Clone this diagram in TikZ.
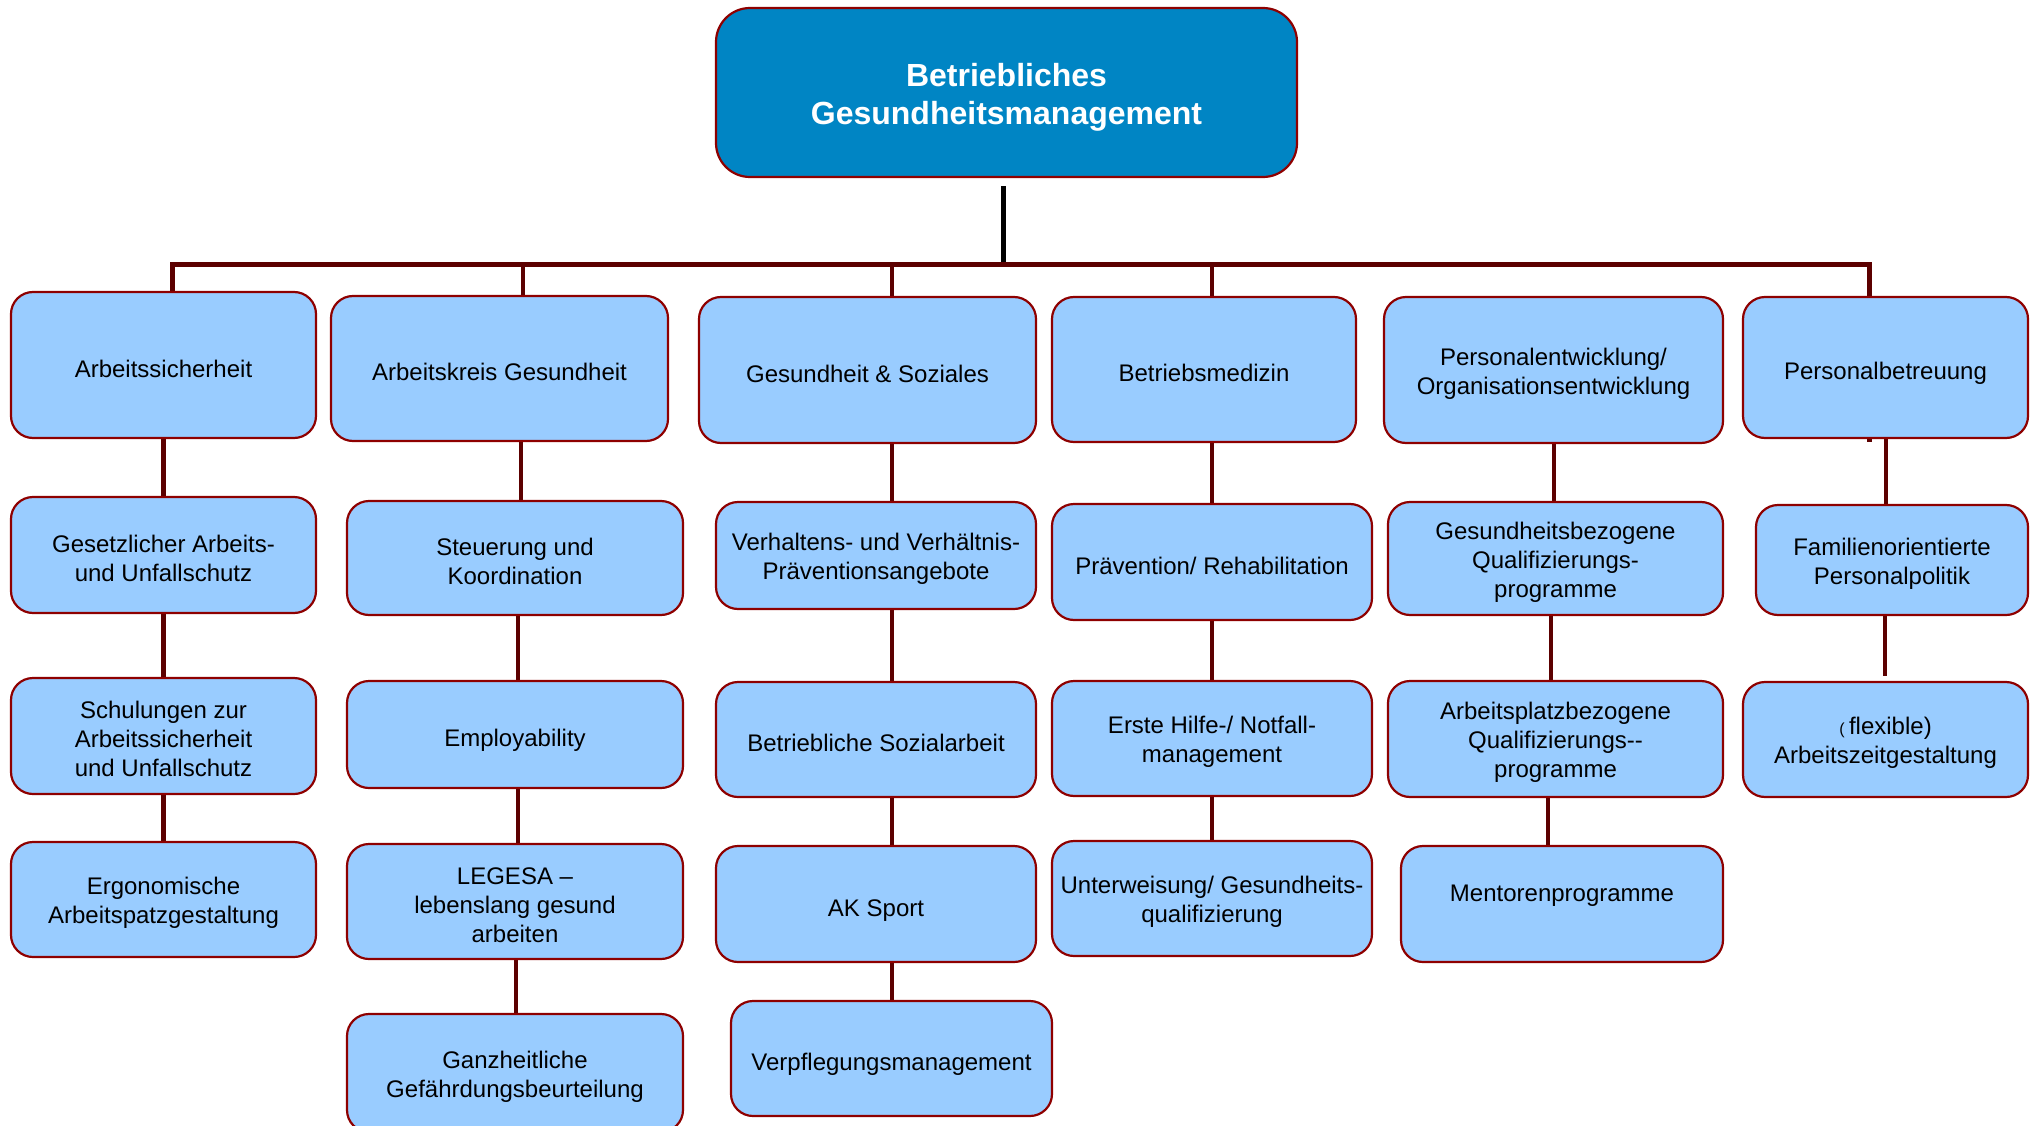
\documentclass[tikz,border=0pt]{standalone}
\usepackage{fontspec}
\setmainfont{Liberation Sans}
\definecolor{lightfill}{HTML}{99CCFF}
\definecolor{rootfill}{HTML}{0085C4}
\definecolor{bordercol}{HTML}{8E0000}
\definecolor{conncol}{HTML}{5C0000}
\pgfdeclarelayer{bg}
\pgfsetlayers{bg,main}
\tikzset{
  box/.style={draw=bordercol, line width=2.2pt, fill=lightfill, rounded corners=22pt,
    inner sep=0pt, align=center, font=\fontsize{24}{29}\selectfont},
  sl/.style={text depth=0pt},
  rootbox/.style={draw=bordercol, line width=2.2pt, fill=rootfill, rounded corners=34pt,
    inner sep=0pt, align=center, text=white, font=\fontsize{32}{38}\selectfont\bfseries},
  conn/.style={draw=conncol, line width=4.5pt},
  busline/.style={draw=conncol, line width=5pt},
  rootline/.style={draw=black, line width=4.3pt},
}
\newcommand\bx[7][]{%
  \pgfmathsetmacro\bxw{#5-#3}\pgfmathsetmacro\bxh{#6-#4}%
  \pgfmathsetmacro\bxx{(#3+#5)/2}\pgfmathsetmacro\bxy{(#4+#6)/2}%
  \node[box,#1,minimum width=\bxw pt,minimum height=\bxh pt] (#2) at (\bxx,\bxy) {\rule{0pt}{24pt}#7};}
\newcommand\vl[3]{%
  \coordinate (tmpa) at ([xshift=#3]#1.south);
  \draw[conn] (tmpa) -- (tmpa |- #2.north);}
\newcommand\stub[2]{%
  \coordinate (tmpa) at ([xshift=#2]#1.north);
  \draw[conn] (tmpa) -- (tmpa |- busL);}
\begin{document}
\begin{tikzpicture}[x=1pt,y=-1pt]
\useasboundingbox (0,0) rectangle (2031,1126);
% root
\node[rootbox, minimum width=581pt, minimum height=169pt] (root) at (1006.5,92.5)
  {\rule{0pt}{32pt}Betriebliches\\Gesundheitsmanagement};
% row 1
\bx[sl]{a1}{11}{292}{316}{438}{Arbeitssicherheit}
\bx[sl]{a2}{331}{296}{668}{441}{Arbeitskreis Gesundheit}
\bx[sl]{a3}{699}{297}{1036}{443}{Gesundheit \& Soziales}
\bx[sl]{a4}{1052}{297}{1356}{442}{Betriebsmedizin}
\bx{a5}{1384}{297}{1723}{443}{Personalentwicklung/\\Organisationsentwicklung}
\bx[sl]{a6}{1743}{297}{2028}{438}{Personalbetreuung}
% row 2
\bx{b1}{11}{497}{316}{613}{Gesetzlicher Arbeits-\\und Unfallschutz}
\bx{b2}{347}{501}{683}{615}{Steuerung und\\Koordination}
\bx{b3}{716}{502}{1036}{609}{Verhaltens- und Verhältnis-\\Präventionsangebote}
\bx[sl]{b4}{1052}{504}{1372}{620}{Prävention/ Rehabilitation}
\bx{b5}{1388}{502}{1723}{615}{Gesundheitsbezogene\\Qualifizierungs-\\programme}
\bx{b6}{1756}{505}{2028}{615}{Familienorientierte\\Personalpolitik}
% row 3
\bx{c1}{11}{678}{316}{794}{Schulungen zur\\Arbeitssicherheit\\und Unfallschutz}
\bx[sl]{c2}{347}{681}{683}{788}{Employability}
\bx[sl]{c3}{716}{682}{1036}{797}{Betriebliche Sozialarbeit}
\bx{c4}{1052}{681}{1372}{796}{Erste Hilfe-/ Notfall-\\management}
\bx{c5}{1388}{681}{1723}{797}{Arbeitsplatzbezogene\\Qualifizierungs-{}-\\programme}
\bx{c6}{1743}{682}{2028}{797}{{\fontsize{16}{16}\selectfont( }flexible)\\Arbeitszeitgestaltung}
% row 4
\bx{d1}{11}{842}{316}{957}{Ergonomische\\Arbeitspatzgestaltung}
\bx{d2}{347}{844}{683}{959}{LEGESA –\\lebenslang gesund\\arbeiten}
\bx[sl]{d3}{716}{846}{1036}{962}{AK Sport}
\bx{d4}{1052}{841}{1372}{956}{Unterweisung/ Gesundheits-\\qualifizierung}
\bx{d5}{1401}{846}{1723}{962}{Mentorenprogramme\\~}
% row 5
\bx{e2}{347}{1014}{683}{1132}{Ganzheitliche\\Gefährdungsbeurteilung}
\bx[sl]{e3}{731}{1001}{1052}{1116}{Verpflegungsmanagement}
% connectors
\begin{pgfonlayer}{bg}
  \coordinate (busL) at (172,264);
  \coordinate (busR) at (1869,264);
  \coordinate (rl) at ([xshift=-3pt,yshift=-8pt]root.south);
  \draw[rootline] (rl) -- (rl |- busL);
  \coordinate (s1) at ([xshift=8.5pt]a1.north);
  \coordinate (s6) at ([xshift=-16.5pt,yshift=-3pt]a6.south);
  \draw[busline, line join=miter] (s1) |- (busR) -- (s6);
  \stub{a2}{23.5pt}
  \stub{a3}{24.5pt}
  \stub{a4}{8pt}
  % column 1
  \vl{a1}{b1}{0pt}
  \vl{b1}{c1}{0pt}
  \vl{c1}{d1}{0pt}
  % column 2
  \vl{a2}{b2}{21.5pt}
  \vl{b2}{c2}{3pt}
  \vl{c2}{d2}{3pt}
  \vl{d2}{e2}{1pt}
  % column 3
  \vl{a3}{b3}{24.5pt}
  \vl{b3}{c3}{16pt}
  \vl{c3}{d3}{16pt}
  \vl{d3}{e3}{16pt}
  % column 4
  \vl{a4}{b4}{8pt}
  \vl{b4}{c4}{0pt}
  \vl{c4}{d4}{0pt}
  % column 5
  \vl{a5}{b5}{0.5pt}
  \vl{b5}{c5}{-4.5pt}
  \vl{c5}{d5}{-7.5pt}
  % column 6
  \vl{a6}{b6}{0.5pt}
  \coordinate (t6) at ([xshift=-7pt]b6.south);
  \coordinate (t6b) at (t6 |- c6.north);
  \draw[conn] (t6) -- ([yshift=5pt]t6b);
\end{pgfonlayer}
\end{tikzpicture}
\end{document}
